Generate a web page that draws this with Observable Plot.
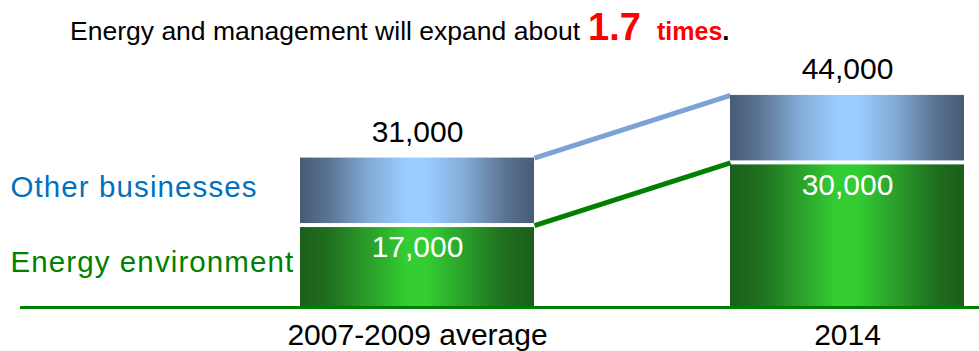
<!DOCTYPE html>
<html><head><meta charset="utf-8">
<script src="https://cdn.jsdelivr.net/npm/d3@7"></script>
<script src="https://cdn.jsdelivr.net/npm/@observablehq/plot@0.6"></script>
<style>
body{margin:0;background:#fff;font-family:"Liberation Sans",Arial,sans-serif;}
svg{display:block}
</style></head><body>
<svg id="title" width="979" height="50" font-family="Liberation Sans, Arial, sans-serif">
<text x="70" y="39.5" font-size="25" fill="#000" textLength="510" lengthAdjust="spacingAndGlyphs">Energy and management will expand about</text>
<text y="39.5"><tspan x="588" font-size="38" font-weight="bold" fill="#ff0000">1.7</tspan><tspan x="657" font-size="25" font-weight="bold" fill="#ff0000">times</tspan><tspan font-size="26" font-weight="bold" fill="#000">.</tspan></text>
</svg>
<div id="chart"></div>
<script>
// ---- data ----
const categories = ["2007-2009 average", "2014"];
const seriesNames = ["Energy environment", "Other businesses"];
const energy = [17000, 30000];
const other = [14000, 14000];

// ---- styles ----
const seriesLabelColors = ["#008000", "#0070c0"];
const gradients = {
  gradGreen: [[0, "#1b5e1b"], [0.12, "#1f6e1f"], [0.3, "#2aa02a"], [0.45, "#33cc33"], [0.55, "#33cc33"], [0.7, "#2aa02a"], [0.88, "#1f6e1f"], [1, "#1b5e1b"]],
  gradBlue: [[0, "#485a76"], [0.12, "#5a7391"], [0.3, "#83acd8"], [0.45, "#99ccff"], [0.55, "#99ccff"], [0.7, "#83acd8"], [0.88, "#5a7391"], [1, "#485a76"]]
};

const total = energy.map((e, i) => e + other[i]);
const fmt = d3.format(",");

const energyRows = categories.map((c, i) => ({cat: c, y1: 0, y2: energy[i]}));
const otherRows = categories.map((c, i) => ({cat: c, y1: energy[i], y2: total[i]}));
const energyLink = [{x1: categories[0], x2: categories[1], y1: energy[0], y2: energy[1]}];
const totalLink = [{x1: categories[0], x2: categories[1], y1: total[0], y2: total[1]}];
const seriesLabelRows = [
  {name: seriesNames[0], y: energy[0] / 2, color: seriesLabelColors[0]},
  {name: seriesNames[1], y: energy[0] + other[0] / 2, color: seriesLabelColors[1]}
];

function gradientDefs() {
  const ns = "http://www.w3.org/2000/svg";
  const defs = document.createElementNS(ns, "defs");
  for (const [id, stops] of Object.entries(gradients)) {
    const g = document.createElementNS(ns, "linearGradient");
    g.setAttribute("id", id);
    g.setAttribute("x1", "0"); g.setAttribute("x2", "1");
    g.setAttribute("y1", "0"); g.setAttribute("y2", "0");
    for (const [o, c] of stops) {
      const s = document.createElementNS(ns, "stop");
      s.setAttribute("offset", o);
      s.setAttribute("stop-color", c);
      g.appendChild(s);
    }
    defs.appendChild(g);
  }
  return defs;
}

// connect the right edge of the first bar to the left edge of the second
function edgeLink(index, scales, values, dimensions, context, next) {
  const bw = scales.x && typeof scales.x.bandwidth === "function" ? scales.x.bandwidth() : 0;
  const x1 = Array.from(values.x1, v => v + bw / 2);
  const x2 = Array.from(values.x2, v => v - bw / 2);
  return next(index, scales, {...values, x1, x2}, dimensions, context);
}

// slightly wider lettering for the series labels
function spaced(index, scales, values, dimensions, context, next) {
  const g = next(index, scales, values, dimensions, context);
  if (g) g.setAttribute("letter-spacing", "1.1");
  return g;
}

const chart = Plot.plot({
  width: 979,
  height: 301,
  marginLeft: 20,
  marginRight: 0,
  marginTop: 16,
  marginBottom: 44,
  style: {fontFamily: "Liberation Sans, Arial, sans-serif", background: "#fff", overflow: "visible"},
  x: {type: "band", domain: categories, paddingInner: 0.456, paddingOuter: 0.343, align: 0.949, label: null},
  y: {domain: [0, 50000], axis: null},
  marks: [
    gradientDefs,
    Plot.link(totalLink, {x1: "x1", x2: "x2", y1: "y1", y2: "y2", stroke: "#7ba3d6", strokeWidth: 5, render: edgeLink}),
    Plot.link(energyLink, {x1: "x1", x2: "x2", y1: "y1", y2: "y2", stroke: "#008000", strokeWidth: 5, render: edgeLink}),
    Plot.barY(energyRows, {x: "cat", y1: "y1", y2: "y2", fill: "url(#gradGreen)", insetTop: 2}),
    Plot.barY(otherRows, {x: "cat", y1: "y1", y2: "y2", fill: "url(#gradBlue)", insetBottom: 2}),
    Plot.ruleY([0], {stroke: "#008000", strokeWidth: 3}),
    Plot.text(categories, {x: d => d, y: (d, i) => total[i], text: (d, i) => fmt(total[i]), dy: -26, fontSize: 30, fill: "#000"}),
    Plot.text(categories, {x: d => d, y: (d, i) => energy[i], text: (d, i) => fmt(energy[i]), dy: 22, fontSize: 30, fill: "#fff"}),
    Plot.text(seriesLabelRows, {y: "y", text: "name", fill: "color", frameAnchor: "left", textAnchor: "start", dx: -10, dy: -4, fontSize: 29.5, render: spaced}),
    Plot.axisX({tickSize: 0, tickPadding: 16, fontSize: 30, label: null})
  ]
});
document.getElementById("chart").appendChild(chart);
</script>
</body></html>
